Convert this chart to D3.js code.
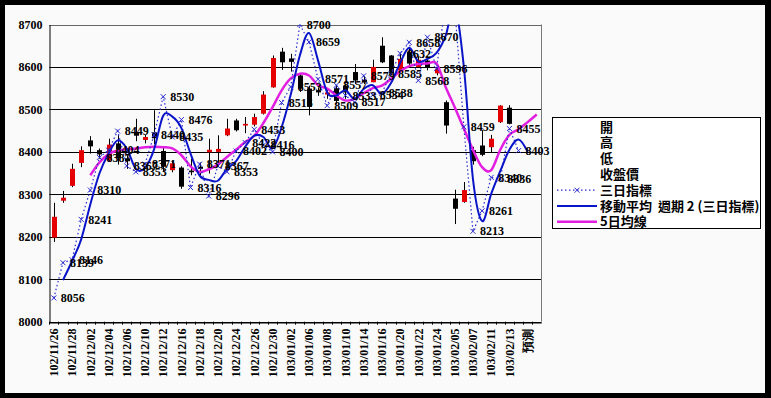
<!DOCTYPE html>
<html>
<head>
<meta charset="utf-8">
<script src="https://cdn.jsdelivr.net/npm/d3@7"></script>
<style>
  body { margin: 0; background: #000; }
  svg { display: block; }
</style>
</head>
<body>
<svg id="chart" width="771" height="398"></svg>
<script>
// 日期（類別）
const dates = [
  '102/11/26', '102/11/27', '102/11/28', '102/11/29', '102/12/02', '102/12/03',
  '102/12/04', '102/12/05', '102/12/06', '102/12/09', '102/12/10', '102/12/11',
  '102/12/12', '102/12/13', '102/12/16', '102/12/17', '102/12/18', '102/12/19',
  '102/12/20', '102/12/23', '102/12/24', '102/12/25', '102/12/26', '102/12/27',
  '102/12/30', '102/12/31', '103/01/02', '103/01/03', '103/01/06', '103/01/07',
  '103/01/08', '103/01/09', '103/01/10', '103/01/13', '103/01/14', '103/01/15',
  '103/01/16', '103/01/17', '103/01/20', '103/01/21', '103/01/22', '103/01/23',
  '103/01/24', '103/01/27', '103/02/05', '103/02/06', '103/02/07', '103/02/10',
  '103/02/11', '103/02/12', '103/02/13', '103/02/14', '預測', ' '
];

// 開 高 低 收
const open  = [8198, 8285, 8320, 8374, 8427, 8404, 8380, 8420, 8385, 8445, 8428, 8446, 8402, 8357, 8363, 8356, 8365, 8399, 8400, 8439, 8474, 8462, 8464, 8490, 8552, 8636, 8620, 8580, 8549, 8545, 8535, 8550, 8556, 8588, 8570, 8564, 8650, 8627, 8592, 8635, 8600, 8615, 8585, 8517, 8290, 8282, 8404, 8415, 8411, 8470, 8504];
const high  = [8280, 8308, 8372, 8413, 8437, 8408, 8431, 8440, 8392, 8478, 8440, 8498, 8410, 8380, 8366, 8384, 8375, 8431, 8439, 8478, 8478, 8482, 8490, 8543, 8627, 8645, 8631, 8584, 8556, 8552, 8548, 8556, 8560, 8607, 8578, 8617, 8670, 8628, 8631, 8645, 8625, 8625, 8600, 8521, 8311, 8329, 8412, 8451, 8440, 8510, 8510];
const low   = [8188, 8280, 8317, 8364, 8396, 8384, 8376, 8370, 8360, 8425, 8420, 8418, 8355, 8352, 8313, 8345, 8345, 8349, 8364, 8437, 8448, 8444, 8460, 8488, 8551, 8593, 8589, 8541, 8486, 8532, 8525, 8513, 8525, 8560, 8560, 8564, 8609, 8580, 8590, 8600, 8598, 8592, 8580, 8443, 8230, 8280, 8370, 8390, 8399, 8468, 8465];
const close = [8247, 8292, 8360, 8404, 8413, 8394, 8417, 8385, 8378, 8438, 8435, 8432, 8365, 8373, 8318, 8352, 8360, 8405, 8407, 8455, 8451, 8466, 8482, 8535, 8621, 8611, 8612, 8549, 8506, 8540, 8540, 8520, 8540, 8568, 8566, 8600, 8611, 8585, 8619, 8608, 8617, 8598, 8596, 8462, 8266, 8310, 8378, 8393, 8431, 8509, 8466];

// 三日指標
const threeDay = [8056, 8139, 8146, 8241, 8310, 8387, 8404, 8449, 8367, 8353, 8371, 8440, 8530, 8435, 8476, 8316, 8371, 8296, 8367, 8353, 8402, 8422, 8453, 8416, 8400, 8516, 8553, 8700, 8659, 8571, 8509, 8557, 8533, 8517, 8579, 8534, 8538, 8585, 8632, 8658, 8568, 8670, 8596, 8750, 8740, 8459, 8213, 8261, 8340, 8336, 8455, 8403];

// 移動平均 週期 2 (三日指標)
const movAvg2 = [null, 8098, 8143, 8194, 8276, 8349, 8396, 8427, 8408, 8360, 8362, 8406, 8485, 8483, 8456, 8396, 8344, 8334, 8332, 8360, 8378, 8412, 8438, 8435, 8408, 8458, 8535, 8627, 8680, 8615, 8540, 8533, 8545, 8525, 8548, 8557, 8536, 8562, 8609, 8645, 8613, 8619, 8633, 8673, 8745, 8600, 8336, 8237, 8301, 8355, 8405, 8429, 8400];

// 5日均線
const ma5 = [null, null, null, null, 8345, 8375, 8395, 8403, 8406, 8408, 8411, 8412, 8411, 8408, 8392, 8366, 8353, 8359, 8370, 8388, 8405, 8423, 8438, 8468, 8505, 8545, 8573, 8584, 8580, 8557, 8549, 8533, 8521, 8525, 8538, 8550, 8556, 8572, 8590, 8602, 8607, 8608, 8608, 8553, 8505, 8455, 8405, 8364, 8357, 8405, 8440, 8453, 8470, 8488];

const yTicks = [8000, 8100, 8200, 8300, 8400, 8500, 8600, 8700];

const legendItems = ['開', '高', '低', '收盤價', '三日指標', '移動平均  週期 2 (三日指標)', '5日均線'];

const W = 771, H = 398;
const plot = { left: 49.3, right: 541.3, top: 24.5, bottom: 321.7 };
const numFont = 'Liberation Serif, serif';

const svg = d3.select('#chart');

// 外框
svg.append('rect').attr('width', W).attr('height', H).attr('fill', '#000');
svg.append('rect').attr('x', 5).attr('y', 5).attr('width', 760).attr('height', 388).attr('fill', '#fafafa');

const x = d3.scaleBand()
  .domain(dates)
  .range([plot.left, plot.right]);

const y = d3.scaleLinear()
  .domain([8000, 8700])
  .range([plot.bottom, plot.top]);

const cx = i => x(dates[i]) + x.bandwidth() / 2;

svg.append('defs').append('clipPath').attr('id', 'clip')
  .append('rect')
  .attr('x', plot.left).attr('y', plot.top)
  .attr('width', plot.right - plot.left).attr('height', plot.bottom - plot.top);

// 格線
svg.append('g')
  .selectAll('line')
  .data(yTicks)
  .join('line')
  .attr('x1', plot.left).attr('x2', plot.right)
  .attr('y1', d => Math.round(y(d)) + 0.5).attr('y2', d => Math.round(y(d)) + 0.5)
  .attr('stroke', d => d === 8700 ? '#666' : '#000')
  .attr('stroke-width', 1);

svg.append('line')
  .attr('x1', Math.round(plot.right) + 0.5).attr('x2', Math.round(plot.right) + 0.5)
  .attr('y1', plot.top).attr('y2', plot.bottom)
  .attr('stroke', '#777');

// y 軸
const yAxis = svg.append('g')
  .attr('transform', `translate(${Math.round(plot.left) + 0.5},0)`)
  .call(d3.axisLeft(y).tickValues(yTicks).tickFormat(d3.format('d')).tickSize(0).tickPadding(7));
yAxis.select('.domain').attr('stroke', '#000');
yAxis.selectAll('text')
  .attr('font-family', numFont)
  .attr('font-size', 12)
  .attr('font-weight', 700)
  .attr('fill', '#000');

// x 軸
const xAxis = svg.append('g')
  .attr('transform', `translate(0,${Math.round(plot.bottom) + 0.5})`)
  .call(d3.axisBottom(x)
    .tickValues(dates.filter((d, i) => i % 2 === 0))
    .tickSize(0)
    .tickSizeOuter(0));
xAxis.select('.domain').attr('stroke', '#000');
xAxis.selectAll('text')
  .attr('font-family', numFont)
  .attr('font-size', 12)
  .attr('font-weight', 700)
  .attr('fill', '#000')
  .attr('transform', 'rotate(-90)')
  .attr('x', -6)
  .attr('y', 0)
  .attr('dy', '0.35em')
  .attr('text-anchor', 'end');

// 刻度
svg.append('g')
  .selectAll('line')
  .data(dates)
  .join('line')
  .attr('x1', d => Math.round(x(d)) + 0.5).attr('x2', d => Math.round(x(d)) + 0.5)
  .attr('y1', plot.bottom).attr('y2', plot.bottom + 3)
  .attr('stroke', '#000');

// K 線
const candles = open.map((o, i) => ({ i, o, h: high[i], l: low[i], c: close[i] }));
const bodyW = 5;

const kg = svg.append('g');
kg.selectAll('line')
  .data(candles)
  .join('line')
  .attr('x1', d => Math.round(cx(d.i)) + 0.5).attr('x2', d => Math.round(cx(d.i)) + 0.5)
  .attr('y1', d => y(d.h)).attr('y2', d => y(d.l))
  .attr('stroke', '#000');
kg.selectAll('rect')
  .data(candles)
  .join('rect')
  .attr('x', d => Math.round(cx(d.i)) + 0.5 - bodyW / 2)
  .attr('width', bodyW)
  .attr('y', d => y(Math.max(d.o, d.c)))
  .attr('height', d => Math.max(1.5, Math.abs(y(d.o) - y(d.c))))
  .attr('fill', d => d.c >= d.o ? '#e40000' : '#000');

const lineG = svg.append('g').attr('clip-path', 'url(#clip)');

// 5日均線
lineG.append('path')
  .datum(ma5.map((v, i) => [i, v]).filter(d => d[1] !== null))
  .attr('fill', 'none')
  .attr('stroke', '#e21fe0')
  .attr('stroke-width', 2.5)
  .attr('d', d3.line().x(d => cx(d[0])).y(d => y(d[1])).curve(d3.curveCatmullRom.alpha(0)));

// 三日指標 (虛線)
lineG.append('path')
  .datum(threeDay.map((v, i) => [i, v]))
  .attr('fill', 'none')
  .attr('stroke', '#2b2bd0')
  .attr('stroke-width', 1.2)
  .attr('stroke-dasharray', '1.5,2.5')
  .attr('d', d3.line().x(d => cx(d[0])).y(d => y(d[1])));

// 移動平均
lineG.append('path')
  .datum(movAvg2.map((v, i) => [i, v]).filter(d => d[1] !== null))
  .attr('fill', 'none')
  .attr('stroke', '#0a14c8')
  .attr('stroke-width', 2)
  .attr('d', d3.line().x(d => cx(d[0])).y(d => y(d[1])).curve(d3.curveCatmullRom.alpha(0)));

// x 標記
const marks = threeDay.map((v, i) => ({ i, v })).filter(d => d.v <= 8700);
const mg = lineG.append('g');
mg.selectAll('path')
  .data(marks)
  .join('path')
  .attr('d', d => {
    const px = cx(d.i), py = y(d.v), s = 2.5;
    return `M${px - s},${py - s}L${px + s},${py + s}M${px - s},${py + s}L${px + s},${py - s}`;
  })
  .attr('stroke', '#2b2bd0')
  .attr('stroke-width', 1);

// 數值標籤
svg.append('g')
  .selectAll('text')
  .data(marks)
  .join('text')
  .attr('x', d => cx(d.i) + 7)
  .attr('y', d => y(d.v))
  .attr('dy', '0.35em')
  .attr('font-family', numFont)
  .attr('font-size', 12)
  .attr('font-weight', 700)
  .attr('fill', '#000')
  .text(d => d.v);

// 圖例
const lg = svg.append('g');
lg.append('rect')
  .attr('x', 552.5).attr('y', 117.5).attr('width', 208).attr('height', 111)
  .attr('fill', '#fff').attr('stroke', '#000');

const rowY = i => 127 + i * 15.8;
lg.selectAll('text')
  .data(legendItems)
  .join('text')
  .attr('x', 600)
  .attr('y', (d, i) => rowY(i))
  .attr('dy', '0.35em')
  .attr('font-family', 'Noto Sans CJK TC, sans-serif')
  .attr('font-size', 13)
  .attr('font-weight', 700)
  .attr('fill', '#000')
  .attr('xml:space', 'preserve')
  .style('white-space', 'pre')
  .text(d => d);

// 圖例符號
lg.append('line')
  .attr('x1', 557).attr('x2', 597).attr('y1', rowY(4)).attr('y2', rowY(4))
  .attr('stroke', '#2b2bd0').attr('stroke-width', 1.2).attr('stroke-dasharray', '1.5,2.5');
lg.append('path')
  .attr('d', `M${577 - 2.5},${rowY(4) - 2.5}l5,5m-5,0l5,-5`)
  .attr('stroke', '#2b2bd0');
lg.append('line')
  .attr('x1', 557).attr('x2', 597).attr('y1', rowY(5)).attr('y2', rowY(5))
  .attr('stroke', '#0a14c8').attr('stroke-width', 2);
lg.append('line')
  .attr('x1', 557).attr('x2', 597).attr('y1', rowY(6)).attr('y2', rowY(6))
  .attr('stroke', '#e21fe0').attr('stroke-width', 2.5);
</script>
</body>
</html>
